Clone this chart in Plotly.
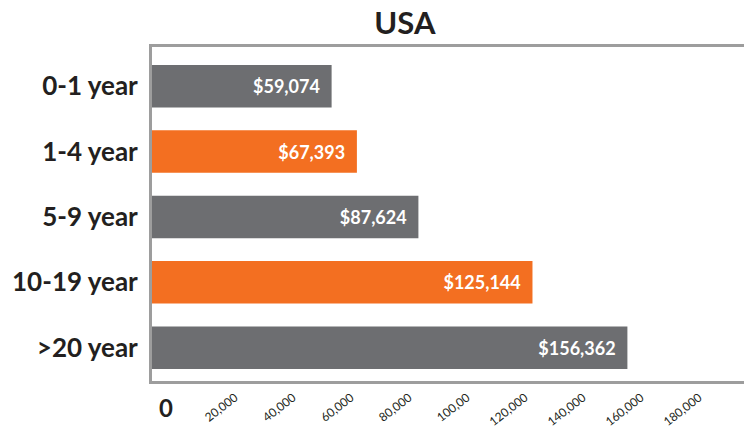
import plotly.graph_objects as go

# ---- data ----
categories = ["0-1 year", "1-4 year", "5-9 year", "10-19 year", ">20 year"]
salaries = [59074, 67393, 87624, 125144, 156362]
bar_labels = ["$59,074", "$67,393", "$87,624", "$125,144", "$156,362"]
bar_colors = ["#6D6E71", "#F36F21", "#6D6E71", "#F36F21", "#6D6E71"]
tick_values = [20000, 40000, 60000, 80000, 100000, 120000, 140000, 160000, 180000]
tick_labels = ["20,000", "40,000", "60,000", "80,000", "100,00",
               "120,000", "140,000", "160,000", "180,000"]
title_text = "USA"

# ---- layout constants ----
X_MAX = 195700
# the printed tick scale in the original is offset/stretched relative to the bars
TICK_ORIGIN = 8200
TICK_STRETCH = 0.954
tick_positions = [TICK_ORIGIN + TICK_STRETCH * v for v in tick_values]

FONT = "Lato"
TEXT_DARK = "#231F20"
FRAME = "#9D9D9D"
W, H = 744, 423  # page adds an 8px body margin

fig = go.Figure()
fig.add_trace(go.Bar(
    x=salaries,
    y=categories,
    orientation="h",
    marker=dict(color=bar_colors, line=dict(width=0)),
    text=[t + "  " for t in bar_labels],
    textposition="inside",
    insidetextanchor="end",
    textfont=dict(family=FONT, size=18, color="white", weight="bold"),
    hoverinfo="skip",
))

fig.update_layout(
    width=W, height=H,
    margin=dict(l=144, r=2, t=39, b=44),
    paper_bgcolor="white",
    plot_bgcolor="white",
    showlegend=False,
    bargap=0.35,
    title=dict(
        text=title_text,
        font=dict(family=FONT, size=31, color=TEXT_DARK, weight="bold"),
        x=0.425, xref="paper", xanchor="center",
        y=1 - 4 / H, yref="container", yanchor="top",
        pad=dict(t=0, b=0),
    ),
    xaxis=dict(
        range=[0, X_MAX],
        tickvals=tick_positions,
        ticktext=tick_labels,
        tickangle=-38,
        tickfont=dict(family=FONT, size=12, color=TEXT_DARK),
        showgrid=False,
        zeroline=False,
        showline=True, mirror=True, linecolor=FRAME, linewidth=3,
        ticks="", ticklabelstandoff=2,
    ),
    yaxis=dict(
        type="category",
        categoryorder="array",
        categoryarray=categories,
        range=[4.51, -0.6],
        tickfont=dict(family=FONT, size=26, color=TEXT_DARK, weight="bold"),
        showgrid=False,
        zeroline=False,
        showline=True, mirror=True, linecolor=FRAME, linewidth=3,
        ticks="", ticklabelstandoff=6,
    ),
)

fig.add_annotation(
    x=0, y=0, xref="x", yref="paper",
    text="<b>0</b>", showarrow=False,
    font=dict(family=FONT, size=24, color=TEXT_DARK),
    xanchor="center", yanchor="top", xshift=14, yshift=-10,
)

fig.write_html("out.html")
